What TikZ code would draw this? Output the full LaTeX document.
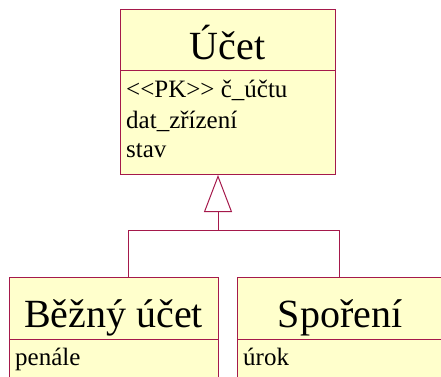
\documentclass[tikz,border=0pt]{standalone}
\usepackage{fontspec}
\setmainfont{Liberation Serif}
\usetikzlibrary{arrows.meta}
\definecolor{umlborder}{RGB}{165,25,75}
\definecolor{umlfill}{RGB}{255,255,204}
\begin{document}
\begin{tikzpicture}[x=1pt,y=1pt,
  classbox/.style={draw=umlborder, fill=umlfill, line width=1pt, rectangle, inner sep=0pt, anchor=north west},
  classtitle/.style={font=\fontsize{40}{40}\selectfont, inner sep=0pt, anchor=base},
  attr/.style={font=\fontsize{25}{25}\selectfont, inner sep=0pt, anchor=base west},
  conn/.style={draw=umlborder, line width=1pt}]
\useasboundingbox (0,-376) rectangle (441,0);
% boxes
\node[classbox, minimum width=215pt, minimum height=165pt] (ucet) at (120,-9) {};
\draw[conn] (ucet.west |- 0,-70) -- (ucet.east |- 0,-70);
\node[classbox, minimum width=209pt, minimum height=130pt] (bezny) at (9,-277) {};
\draw[conn] (bezny.west |- 0,-339) -- (bezny.east |- 0,-339);
\node[classbox, minimum width=207pt, minimum height=130pt] (sporeni) at (237,-277) {};
\draw[conn] (sporeni.west |- 0,-339) -- (sporeni.east |- 0,-339);
% texts
\node[classtitle] (ucetT) at (227.5,-59) {Účet};
\node[attr] (a1) at (126,-97) {<{}<PK>{}> č\_účtu};
\node[attr] (a2) at (126,-128) {dat\_zřízení};
\node[attr] (a3) at (126,-157) {stav};
\node[classtitle] (beznyT) at (113.5,-327) {Běžný účet};
\node[attr] (b1) at (15,-365) {penále};
\node[classtitle] (sporeniT) at (340,-327) {Spoření};
\node[attr] (s1) at (243,-365) {úrok};
% generalization
\coordinate (j) at (218,-230);
\coordinate (jl) at (128,-230);
\coordinate (jr) at (339,-230);
\draw[conn, -{Triangle[open, length=37pt, width=28pt, line width=1pt]}] (j) -- (j |- ucet.south);
\draw[conn] (jl |- bezny.north) -- (jl) -- (jr) -- (jr |- sporeni.north);
\end{tikzpicture}
\end{document}
